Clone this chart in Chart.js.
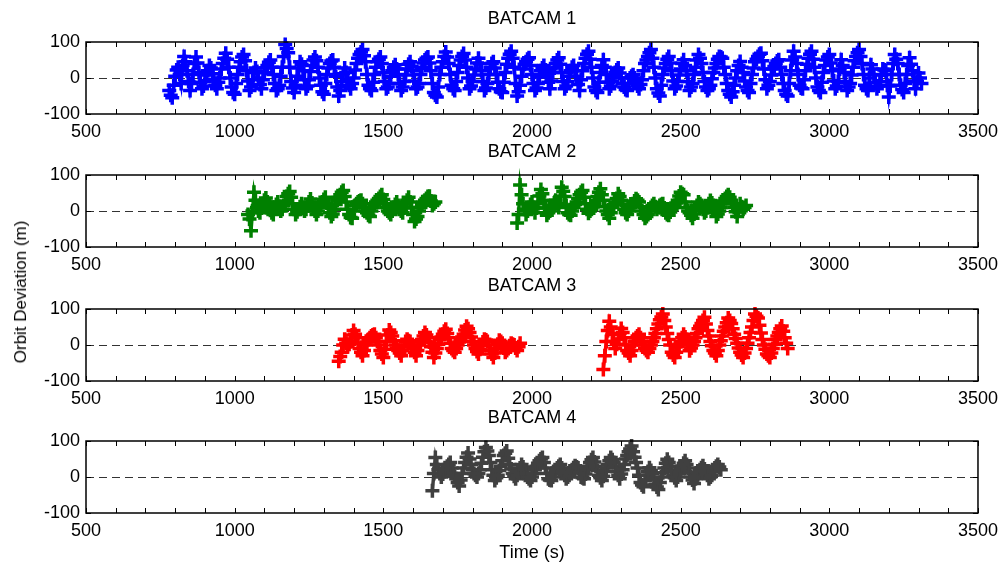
<!DOCTYPE html>
<html>
<head>
<meta charset="utf-8">
<title>BATCAM orbit deviation</title>
<script src="https://cdn.jsdelivr.net/npm/chart.js@4.4.0/dist/chart.umd.min.js"></script>
<style>
  html, body { margin: 0; padding: 0; background: #fff; }
  #wrap { position: relative; width: 1005px; height: 571px; overflow: hidden;
          font-family: "Liberation Sans", Arial, sans-serif; }
  .panel { position: absolute; left: 0; width: 1005px; }
  #ylabel { position: absolute; left: 21px; top: 292px; transform: translate(-50%, -50%) rotate(-90deg);
            font-size: 17px; white-space: nowrap; color: #000; }
</style>
</head>
<body>
<div id="wrap">
  <div class="panel" style="top:2px;height:140px"><canvas id="c1"></canvas></div>
  <div class="panel" style="top:135px;height:140px"><canvas id="c2"></canvas></div>
  <div class="panel" style="top:269px;height:140px"><canvas id="c3"></canvas></div>
  <div class="panel" style="top:401px;height:170px"><canvas id="c4"></canvas></div>
  <div id="ylabel">Orbit Deviation (m)</div>
</div>
<script>
// --- Datos ---
const sampleStep = 5; // s entre muestras
const panelTitles = ['BATCAM 1', 'BATCAM 2', 'BATCAM 3', 'BATCAM 4'];
const xTickLabels = [500, 1000, 1500, 2000, 2500, 3000, 3500];
const yTickLabels = [-100, 0, 100];

// BATCAM 1
const b1Start = 780;
const b1Values = [
  -35,-48,-55,-20,5,22,30,10,-15,35,60,45,20,-10,-35,-15,10,40,58,42,15,-12,-30,-22,-10,8,20,35,28,12,
  -5,-20,-30,-12,0,25,40,55,69,52,30,0,-25,-40,-45,-15,10,30,45,58,65,48,20,-8,-35,-25,-5,15,28,18,
  0,-18,-30,-5,15,28,35,44,50,30,10,-15,-35,-30,-20,5,30,60,93,82,70,30,-10,-28,-40,-20,5,28,45,38,
  20,-5,-30,-22,-5,18,35,50,58,48,30,0,-20,-38,-45,-15,10,28,40,47,50,30,5,-25,-50,-35,-10,12,28,15,
  -5,-20,-30,-15,0,22,40,55,65,72,79,62,45,10,-20,-30,-35,-12,10,30,45,52,58,40,15,-10,-30,-25,-15,5,
  20,30,37,25,10,-15,-35,-25,-10,8,25,38,45,32,20,-8,-30,-25,-15,10,30,42,50,55,58,42,20,-15,-40,-48,
  -53,-25,10,30,45,60,72,58,40,10,-20,-30,-35,-10,15,35,50,60,68,50,30,0,-30,-22,-10,8,25,42,55,40,
  20,-10,-35,-28,-15,10,30,40,45,28,10,-12,-30,-38,-40,-12,15,38,55,66,74,55,30,-15,-50,-38,-20,5,25,38,
  45,52,56,35,10,-15,-35,-28,-15,3,20,28,35,22,10,-12,-30,-8,15,28,40,50,56,38,15,-10,-30,-22,-10,5,
  20,30,35,20,5,-18,-35,-5,20,40,55,66,74,52,30,0,-25,-35,-40,-12,15,35,51,30,10,-12,-30,-22,-10,3,
  15,22,28,14,0,-15,-25,-32,-35,-15,0,5,9,0,-10,-22,-30,-18,-5,20,40,50,60,70,79,55,30,0,-30,-42,
  -50,-20,10,28,40,52,60,42,20,-8,-30,-22,-10,8,25,40,51,35,20,-10,-35,-25,-15,10,30,50,65,55,40,15,
  -10,-25,-35,-30,-20,-2,15,28,40,52,60,58,55,30,10,-15,-35,-45,-53,-38,-20,0,20,35,46,30,15,-8,-25,-35,
  -40,-15,10,28,45,52,60,66,69,48,25,-5,-30,-20,-10,8,25,32,40,47,51,30,10,-15,-35,-45,-50,-15,20,50,
  74,58,40,10,-20,-28,-30,-5,20,38,55,66,74,52,30,0,-25,-35,-40,-12,15,35,50,58,65,42,20,-8,-30,-22,
  -10,25,51,35,15,-12,-35,-25,-15,8,30,48,60,70,79,60,40,10,-20,-30,-35,0,37,25,10,-12,-30,-22,-10,8,
  25,22,20,-20,-53,-22,10,40,65,52,40,10,-20,-32,-40,-15,10,35,56,38,20,-8,-30,-10,14,0,-15];

// BATCAM 2 (dos tramos)
const b2aStart = 1045;
const b2aValues = [
  -10,-22,-55,0,52,30,10,0,-5,8,20,30,36,25,15,2,-5,-10,10,18,25,12,0,5,15,28,40,48,54,38,
  20,5,-10,-2,5,12,20,8,0,5,15,25,33,22,10,0,-10,0,15,20,25,32,38,22,10,-5,-15,-8,5,18,
  30,38,45,52,57,40,25,5,-10,-18,-20,0,15,20,25,28,30,20,10,0,-5,-12,-15,0,10,18,25,30,35,40,
  45,32,20,10,0,-5,-10,0,10,18,25,15,5,0,-5,8,20,30,38,25,10,-10,-29,-22,-15,0,10,18,25,30,
  35,40,41,28,15,20,25];
const b2bStart = 1950;
const b2bValues = [
  -33,-10,72,45,20,5,-10,0,10,18,25,10,-5,8,20,42,60,48,30,8,-12,-5,0,8,15,22,30,20,10,40,
  66,55,40,15,-5,-10,-12,0,10,18,25,35,45,52,57,38,20,5,-6,0,5,12,20,30,40,52,62,45,30,12,
  0,-10,-20,-5,10,18,25,35,48,40,30,18,5,-5,-10,0,10,15,20,28,34,30,25,12,0,-10,-20,-15,-10,0,
  10,15,20,12,5,10,15,18,20,8,-5,-10,-12,-3,5,10,15,22,30,42,52,48,45,25,10,0,-5,-12,-20,-8,
  5,15,25,20,15,5,-5,0,10,20,29,22,15,0,-15,-8,0,10,20,28,35,40,45,38,30,20,10,-2,-15,5,
  20,12,5,10,15];

// BATCAM 3 (dos tramos)
const b3aStart = 1350;
const b3aValues = [
  -45,-32,-20,0,16,5,-5,2,10,28,40,30,20,5,-10,-20,-30,-15,0,8,15,20,25,28,30,20,10,0,-15,-25,
  -35,-12,10,28,42,35,25,12,0,-8,-15,-22,-30,-15,0,10,16,12,10,0,-10,-20,-30,-15,0,8,15,25,35,28,
  20,8,-5,-20,-35,-22,-10,2,15,22,30,38,44,32,20,5,-10,-15,-20,-10,0,8,15,22,30,42,52,45,35,22,
  10,0,-10,-18,-25,-12,0,8,16,14,10,0,-15,-25,-35,-22,-10,2,13,10,5,-8,-20,-15,-10,-2,5,2,0,-8,
  -15,-5,5];
const b3bStart = 2240;
const b3bValues = [
  -68,-30,10,40,66,50,30,10,-10,2,15,32,46,35,20,0,-15,-22,-30,-15,0,10,20,25,30,20,10,0,-10,-15,
  -20,-10,0,10,20,32,45,58,70,78,86,68,50,32,15,0,-20,-28,-35,-20,-5,2,10,20,30,22,15,0,-16,-8,
  0,10,20,32,45,52,60,68,77,58,40,25,10,-2,-15,-22,-30,-15,0,12,25,38,50,62,75,68,60,45,30,18,
  5,-8,-20,-28,-35,-22,-10,5,20,35,50,68,86,80,75,55,33,15,0,-12,-25,-30,-35,-22,-10,2,15,25,35,45,
  53,38,20,5,-10];

// BATCAM 4
const b4Start = 1665;
const b4Values = [
  -38,10,54,35,20,10,0,8,15,22,30,35,40,25,10,2,-5,-15,-25,-8,10,25,40,55,67,50,35,20,10,5,
  0,10,20,38,55,70,82,72,60,40,20,5,-10,-2,5,18,30,45,60,66,72,52,35,22,10,2,-5,5,15,25,
  35,28,20,10,0,-5,-10,0,10,20,30,38,45,50,54,40,25,10,-5,-8,-10,0,10,18,25,30,35,25,15,5,
  -5,0,5,12,20,26,31,28,25,12,0,-2,-5,8,20,30,40,48,54,42,30,18,5,-2,-10,2,15,25,35,45,
  54,48,40,28,15,5,-5,8,20,35,50,60,70,78,86,70,55,40,25,5,-15,-22,-27,-10,5,15,26,18,10,-5,
  -20,-28,-35,-15,0,12,25,38,49,40,30,18,5,-2,-10,0,10,20,30,38,45,35,25,12,0,-8,-18,-5,5,12,
  20,26,31,22,15,5,-5,0,5,15,25,30,35,28,20];

// --- Auxiliares ---
Chart.defaults.font.family = '"Liberation Sans", Arial, sans-serif';
Chart.defaults.color = '#000';

function toPoints(start, values) {
  return values.map((v, i) => ({ x: start + i * sampleStep, y: v }));
}

// Caja estilo MATLAB: línea de cero discontinua, marco y marcas hacia dentro
const framePlugin = {
  id: 'frame',
  beforeDatasetsDraw(chart) {
    const { ctx, chartArea: a, scales: { y } } = chart;
    const y0 = Math.round(y.getPixelForValue(0)) + 0.5;
    ctx.save();
    ctx.strokeStyle = '#333';
    ctx.lineWidth = 1;
    ctx.setLineDash([8, 5]);
    ctx.beginPath();
    ctx.moveTo(a.left, y0);
    ctx.lineTo(a.right, y0);
    ctx.stroke();
    ctx.restore();
  },
  afterDatasetsDraw(chart) {
    const { ctx, chartArea: a, scales: { x, y } } = chart;
    ctx.save();
    ctx.strokeStyle = '#000';
    ctx.lineWidth = 1;
    ctx.beginPath();
    x.ticks.forEach(t => {
      const px = Math.round(x.getPixelForValue(t.value)) + 0.5;
      ctx.moveTo(px, a.bottom); ctx.lineTo(px, a.bottom - 5);
      ctx.moveTo(px, a.top); ctx.lineTo(px, a.top + 5);
    });
    y.ticks.forEach(t => {
      const py = Math.round(y.getPixelForValue(t.value)) + 0.5;
      ctx.moveTo(a.left, py); ctx.lineTo(a.left + 5, py);
      ctx.moveTo(a.right, py); ctx.lineTo(a.right - 5, py);
    });
    ctx.stroke();
    ctx.lineWidth = 1.5;
    ctx.strokeRect(a.left, a.top, a.right - a.left, a.bottom - a.top);
    ctx.restore();
  }
};

function makePanel(canvasId, title, segments, color, showXTitle) {
  new Chart(document.getElementById(canvasId), {
    type: 'scatter',
    data: {
      datasets: segments.map(seg => ({
        data: seg,
        showLine: true,
        borderWidth: 3.5,
        pointStyle: 'cross',
        pointRadius: 7,
        pointBorderWidth: 3.5,
        borderColor: color,
        backgroundColor: color,
        clip: false
      }))
    },
    options: {
      responsive: true,
      maintainAspectRatio: false,
      animation: false,
      layout: { padding: { left: 0, right: 27, top: 0, bottom: 0 } },
      plugins: {
        legend: { display: false },
        tooltip: { enabled: false },
        title: {
          display: true,
          text: title,
          fullSize: false,
          color: '#000',
          font: { size: 18, weight: 'normal' },
          padding: { top: 6, bottom: 12.4 }
        }
      },
      scales: {
        x: {
          type: 'linear',
          min: 500,
          max: 3500,
          grid: { display: false, drawTicks: false },
          border: { display: false },
          ticks: {
            stepSize: 100,
            autoSkip: false,
            maxRotation: 0,
            padding: 7,
            font: { size: 18 },
            callback: v => xTickLabels.includes(v) ? String(v) : ''
          },
          title: {
            display: showXTitle,
            text: 'Time (s)',
            font: { size: 18 },
            padding: { top: 4, bottom: 7 }
          },
          afterFit: s => { s.height = showXTitle ? 58 : 28; }
        },
        y: {
          min: -100,
          max: 100,
          grid: { display: false, drawTicks: false },
          border: { display: false },
          ticks: {
            stepSize: 50,
            padding: 6,
            font: { size: 18 },
            callback: v => yTickLabels.includes(v) ? String(v) : ''
          },
          afterFit: s => { s.width = 86; }
        }
      }
    },
    plugins: [framePlugin]
  });
}

// --- Paneles ---
makePanel('c1', panelTitles[0], [toPoints(b1Start, b1Values)], '#0000ff', false);
makePanel('c2', panelTitles[1], [toPoints(b2aStart, b2aValues), toPoints(b2bStart, b2bValues)], '#008000', false);
makePanel('c3', panelTitles[2], [toPoints(b3aStart, b3aValues), toPoints(b3bStart, b3bValues)], '#ff0000', false);
makePanel('c4', panelTitles[3], [toPoints(b4Start, b4Values)], '#404040', true);
</script>
</body>
</html>
